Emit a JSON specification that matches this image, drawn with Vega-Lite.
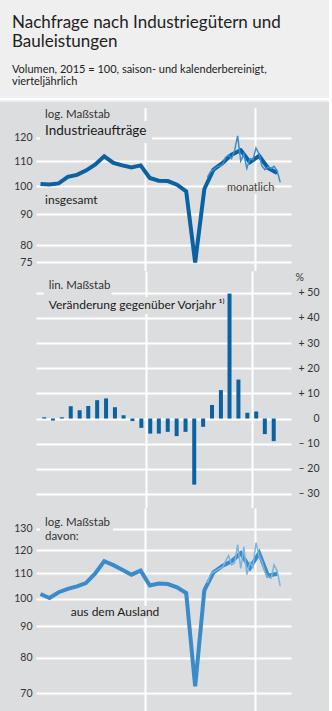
{
  "$schema": "https://vega.github.io/schema/vega-lite/v6.json",
  "background": "#efefef",
  "padding": {"left": 0, "right": 0, "top": 14, "bottom": 0},
  "config": {"view": {"stroke": null}, "font": "Lato"},
  "title": {
    "text": ["Nachfrage nach Industriegütern und", "Bauleistungen"],
    "subtitle": ["Volumen, 2015 = 100, saison- und kalenderbereinigt,", "vierteljährlich"],
    "anchor": "start", "frame": "group", "dx": 12,
    "font": "Lato", "fontSize": 17, "fontWeight": "normal", "lineHeight": 19, "color": "#222222",
    "subtitleFont": "Lato", "subtitleFontSize": 11, "subtitleLineHeight": 12, "subtitleColor": "#222222",
    "subtitlePadding": 13, "offset": 8
  },
  "datasets": {
    "quarterly": [
      {"date": "2016-02-15", "orders": 100.9, "foreign": 101.7, "yoy": 0.5},
      {"date": "2016-05-15", "orders": 100.7, "foreign": 100.2, "yoy": -0.8},
      {"date": "2016-08-15", "orders": 101.1, "foreign": 102.4, "yoy": 0.5},
      {"date": "2016-11-15", "orders": 103.6, "foreign": 103.7, "yoy": 4.9},
      {"date": "2017-02-15", "orders": 104.4, "foreign": 104.7, "yoy": 3.3},
      {"date": "2017-05-15", "orders": 106.1, "foreign": 106.0, "yoy": 5.0},
      {"date": "2017-08-15", "orders": 108.5, "foreign": 109.8, "yoy": 7.3},
      {"date": "2017-11-15", "orders": 112.0, "foreign": 115.1, "yoy": 8.0},
      {"date": "2018-02-15", "orders": 109.2, "foreign": 113.4, "yoy": 4.5},
      {"date": "2018-05-15", "orders": 108.2, "foreign": 111.5, "yoy": 1.3},
      {"date": "2018-08-15", "orders": 107.4, "foreign": 109.4, "yoy": -1.0},
      {"date": "2018-11-15", "orders": 108.2, "foreign": 111.1, "yoy": -3.7},
      {"date": "2019-02-15", "orders": 103.2, "foreign": 105.0, "yoy": -6.0},
      {"date": "2019-05-15", "orders": 102.1, "foreign": 105.8, "yoy": -6.0},
      {"date": "2019-08-15", "orders": 102.0, "foreign": 105.6, "yoy": -5.3},
      {"date": "2019-11-15", "orders": 100.6, "foreign": 104.3, "yoy": -7.0},
      {"date": "2020-02-15", "orders": 98.1, "foreign": 102.1, "yoy": -5.3},
      {"date": "2020-05-15", "orders": 75.0, "foreign": 71.8, "yoy": -26.3},
      {"date": "2020-08-15", "orders": 99.0, "foreign": 103.1, "yoy": -3.3},
      {"date": "2020-11-15", "orders": 106.5, "foreign": 110.4, "yoy": 5.4},
      {"date": "2021-02-15", "orders": 109.2, "foreign": 113.2, "yoy": 11.3},
      {"date": "2021-05-15", "orders": 112.7, "foreign": 115.1, "yoy": 49.7},
      {"date": "2021-08-15", "orders": 114.6, "foreign": 118.7, "yoy": 15.5},
      {"date": "2021-11-15", "orders": 109.5, "foreign": 112.2, "yoy": 2.3},
      {"date": "2022-02-15", "orders": 112.2, "foreign": 118.7, "yoy": 2.8},
      {"date": "2022-05-15", "orders": 107.2, "foreign": 109.0, "yoy": -6.2},
      {"date": "2022-08-15", "orders": 105.1, "foreign": 109.8, "yoy": -9.0}
    ],
    "monthly": [
      {"date": "2020-09-15", "orders": 103.5, "foreign": 106.0},
      {"date": "2020-10-15", "orders": 105.5, "foreign": 109.5},
      {"date": "2020-11-15", "orders": 106.5, "foreign": 110.5},
      {"date": "2020-12-15", "orders": 107.5, "foreign": 111.2},
      {"date": "2021-01-15", "orders": 108.0, "foreign": 112.0},
      {"date": "2021-02-15", "orders": 108.5, "foreign": 112.5},
      {"date": "2021-03-15", "orders": 111.5, "foreign": 115.0},
      {"date": "2021-04-15", "orders": 112.5, "foreign": 117.5},
      {"date": "2021-05-15", "orders": 111.0, "foreign": 113.5},
      {"date": "2021-06-15", "orders": 114.5, "foreign": 114.3},
      {"date": "2021-07-15", "orders": 121.0, "foreign": 122.5},
      {"date": "2021-08-15", "orders": 110.0, "foreign": 112.0},
      {"date": "2021-09-15", "orders": 113.0, "foreign": 121.5},
      {"date": "2021-10-15", "orders": 107.0, "foreign": 109.5},
      {"date": "2021-11-15", "orders": 111.0, "foreign": 114.5},
      {"date": "2021-12-15", "orders": 110.5, "foreign": 112.5},
      {"date": "2022-01-15", "orders": 115.5, "foreign": 123.5},
      {"date": "2022-02-15", "orders": 113.0, "foreign": 117.5},
      {"date": "2022-03-15", "orders": 108.0, "foreign": 115.0},
      {"date": "2022-04-15", "orders": 106.5, "foreign": 110.5},
      {"date": "2022-05-15", "orders": 107.5, "foreign": 108.5},
      {"date": "2022-06-15", "orders": 107.0, "foreign": 108.0},
      {"date": "2022-07-15", "orders": 107.8, "foreign": 113.5},
      {"date": "2022-08-15", "orders": 106.0, "foreign": 111.0},
      {"date": "2022-09-15", "orders": 101.5, "foreign": 104.8}
    ]
  },
  "spacing": 0,
  "resolve": {"scale": {"x": "independent", "y": "independent"}},
  "vconcat": [
    {
      "width": 329, "height": 2,
      "view": {"fill": "#ffffff", "stroke": null},
      "data": {"values": [{}]},
      "mark": {"type": "point", "opacity": 0},
      "encoding": {}
    },
    {
      "width": 329, "height": 169,
      "view": {"fill": "#dcdddf", "stroke": null},
      "layer": [
        {
          "data": {"name": "quarterly"},
          "mark": {"type": "line", "strokeWidth": 4, "color": "#0a62a2"},
          "encoding": {
            "x": {"field": "date", "type": "temporal",
              "scale": {"type": "utc", "domain": [{"year": 2015, "month": 1, "date": 5, "utc": true}, {"year": 2024, "month": 1, "date": 17, "utc": true}]},
              "axis": {"values": [{"year": 2019, "month": 1, "date": 1, "utc": true}, {"year": 2022, "month": 1, "date": 1, "utc": true}], "grid": true, "gridColor": "#ffffff", "gridWidth": 2, "labels": false, "ticks": false, "domain": false, "title": null}},
            "y": {"field": "orders", "type": "quantitative",
              "scale": {"type": "log", "domain": [72.63, 137.46], "nice": false},
              "axis": {"orient": "left", "offset": -291, "values": [75, 80, 90, 100, 110, 120], "tickCount": 20, "tickSize": 255, "tickWidth": 2, "tickColor": "#ffffff", "domain": false, "grid": false, "labelPadding": 4, "labelFont": "Lato", "labelFontSize": 10.5, "labelColor": "#333333", "labelOverlap": false, "title": null}}
          }
        },
        {
          "data": {"name": "monthly"},
          "mark": {"type": "line", "strokeWidth": 1.5, "color": "#3d8ccc"},
          "encoding": {
            "x": {"field": "date", "type": "temporal"},
            "y": {"field": "orders", "type": "quantitative"}
          }
        },
        {
          "data": {"values": [{}]},
          "mark": {"type": "rect", "color": "#dcdddf"},
          "encoding": {
            "x": {"datum": {"year": 2015, "month": 1, "date": 5, "utc": true}, "type": "temporal"},
            "x2": {"datum": {"year": 2024, "month": 1, "date": 17, "utc": true}},
            "y": {"datum": 137.46, "type": "quantitative"},
            "y2": {"datum": 134.4}
          }
        },
        {
          "data": {"values": [{}]},
          "mark": {"type": "rect", "color": "#dcdddf"},
          "encoding": {
            "x": {"datum": {"year": 2016, "month": 2, "date": 10, "utc": true}, "type": "temporal"},
            "x2": {"datum": {"year": 2019, "month": 3, "date": 9, "utc": true}},
            "y": {"datum": 128.0, "type": "quantitative"},
            "y2": {"datum": 117.7}
          }
        },
        {
          "data": {"values": [{}]},
          "mark": {"type": "rect", "color": "#dcdddf"},
          "encoding": {
            "x": {"datum": {"year": 2021, "month": 3, "date": 10, "utc": true}, "type": "temporal"},
            "x2": {"datum": {"year": 2022, "month": 8, "date": 3, "utc": true}},
            "y": {"datum": 99.7, "type": "quantitative"},
            "y2": {"datum": 97.0}
          }
        },
        {
          "data": {"values": [{"label": "log. Maßstab"}]},
          "mark": {"type": "text", "align": "left", "baseline": "middle", "font": "Lato", "fontSize": 11.5, "color": "#333333"},
          "encoding": {
            "x": {"datum": {"year": 2016, "month": 4, "date": 1, "utc": true}, "type": "temporal"},
            "y": {"datum": 130.9, "type": "quantitative"},
            "text": {"field": "label"}
          }
        },
        {
          "data": {"values": [{"label": "Industrieaufträge"}]},
          "mark": {"type": "text", "align": "left", "baseline": "middle", "font": "Lato", "fontSize": 13.5, "color": "#1a1a1a"},
          "encoding": {
            "x": {"datum": {"year": 2016, "month": 4, "date": 1, "utc": true}, "type": "temporal"},
            "y": {"datum": 123.2, "type": "quantitative"},
            "text": {"field": "label"}
          }
        },
        {
          "data": {"values": [{"label": "insgesamt"}]},
          "mark": {"type": "text", "align": "left", "baseline": "middle", "font": "Lato", "fontSize": 12, "color": "#1a1a1a"},
          "encoding": {
            "x": {"datum": {"year": 2016, "month": 4, "date": 1, "utc": true}, "type": "temporal"},
            "y": {"datum": 94.8, "type": "quantitative"},
            "text": {"field": "label"}
          }
        },
        {
          "data": {"values": [{"label": "monatlich"}]},
          "mark": {"type": "text", "align": "left", "baseline": "middle", "font": "Lato", "fontSize": 11, "color": "#4a4036"},
          "encoding": {
            "x": {"datum": {"year": 2021, "month": 3, "date": 30, "utc": true}, "type": "temporal"},
            "y": {"datum": 99.2, "type": "quantitative"},
            "text": {"field": "label"}
          }
        }
      ]
    },
    {
      "width": 329, "height": 237,
      "view": {"fill": "#dcdddf", "stroke": null},
      "layer": [
        {
          "data": {"name": "quarterly"},
          "mark": {"type": "bar", "size": 4, "color": "#0a62a2"},
          "encoding": {
            "x": {"field": "date", "type": "temporal",
              "scale": {"type": "utc", "domain": [{"year": 2015, "month": 1, "date": 5, "utc": true}, {"year": 2024, "month": 1, "date": 17, "utc": true}]},
              "axis": {"values": [{"year": 2019, "month": 1, "date": 1, "utc": true}, {"year": 2022, "month": 1, "date": 1, "utc": true}], "grid": true, "gridColor": "#ffffff", "gridWidth": 2, "labels": false, "ticks": false, "domain": false, "title": null}},
            "y": {"field": "yoy", "type": "quantitative",
              "scale": {"domain": [-35.6, 58.7], "nice": false},
              "axis": {"orient": "right", "offset": -293, "values": [-30, -20, -10, 0, 10, 20, 30, 40, 50], "tickCount": 20, "tickSize": 255, "tickWidth": 2, "tickColor": "#ffffff", "domain": false, "grid": false, "labelPadding": 28, "labelAlign": "right", "labelFont": "Lato", "labelFontSize": 10.5, "labelColor": "#333333", "labelOverlap": false, "labelSeparation": 0, "title": null,
                "labelExpr": "datum.value > 0 ? '+ ' + datum.value : (datum.value < 0 ? '– ' + abs(datum.value) : '0')"}}
          }
        },
        {
          "data": {"values": [{}]},
          "mark": {"type": "rect", "color": "#dcdddf"},
          "encoding": {
            "x": {"datum": {"year": 2016, "month": 2, "date": 10, "utc": true}, "type": "temporal"},
            "x2": {"datum": {"year": 2018, "month": 1, "date": 12, "utc": true}},
            "y": {"datum": 55.2, "type": "quantitative"},
            "y2": {"datum": 48.8}
          }
        },
        {
          "data": {"values": [{}]},
          "mark": {"type": "rect", "color": "#dcdddf"},
          "encoding": {
            "x": {"datum": {"year": 2016, "month": 2, "date": 10, "utc": true}, "type": "temporal"},
            "x2": {"datum": {"year": 2021, "month": 3, "date": 20, "utc": true}},
            "y": {"datum": 48.4, "type": "quantitative"},
            "y2": {"datum": 41.6}
          }
        },
        {
          "data": {"values": [{"label": "lin. Maßstab"}]},
          "mark": {"type": "text", "align": "left", "baseline": "middle", "font": "Lato", "fontSize": 11.5, "color": "#333333"},
          "encoding": {
            "x": {"datum": {"year": 2016, "month": 4, "date": 1, "utc": true}, "type": "temporal"},
            "y": {"datum": 52.6, "type": "quantitative"},
            "text": {"field": "label"}
          }
        },
        {
          "data": {"values": [{"label": "Veränderung gegenüber Vorjahr ¹⁾"}]},
          "mark": {"type": "text", "align": "left", "baseline": "middle", "font": "Lato", "fontSize": 12, "color": "#1a1a1a"},
          "encoding": {
            "x": {"datum": {"year": 2016, "month": 4, "date": 1, "utc": true}, "type": "temporal"},
            "y": {"datum": 45.0, "type": "quantitative"},
            "text": {"field": "label"}
          }
        },
        {
          "data": {"values": [{"label": "%"}]},
          "mark": {"type": "text", "align": "center", "baseline": "middle", "font": "Lato", "fontSize": 10.5, "color": "#333333"},
          "encoding": {
            "x": {"datum": {"year": 2023, "month": 5, "date": 11, "utc": true}, "type": "temporal"},
            "y": {"datum": 56.0, "type": "quantitative"},
            "text": {"field": "label"}
          }
        }
      ]
    },
    {
      "width": 329, "height": 206,
      "view": {"fill": "#dcdddf", "stroke": null},
      "layer": [
        {
          "data": {"name": "quarterly"},
          "mark": {"type": "line", "strokeWidth": 4, "color": "#3a8bc9"},
          "encoding": {
            "x": {"field": "date", "type": "temporal",
              "scale": {"type": "utc", "domain": [{"year": 2015, "month": 1, "date": 5, "utc": true}, {"year": 2024, "month": 1, "date": 17, "utc": true}]},
              "axis": {"values": [{"year": 2019, "month": 1, "date": 1, "utc": true}, {"year": 2022, "month": 1, "date": 1, "utc": true}], "grid": true, "gridColor": "#ffffff", "gridWidth": 2, "labels": false, "ticks": false, "domain": false, "title": null}},
            "y": {"field": "foreign", "type": "quantitative",
              "scale": {"type": "log", "domain": [64.68, 140.7], "nice": false},
              "axis": {"orient": "left", "offset": -291, "values": [70, 80, 90, 100, 110, 120, 130], "tickCount": 20, "tickSize": 255, "tickWidth": 2, "tickColor": "#ffffff", "domain": false, "grid": false, "labelPadding": 4, "labelFont": "Lato", "labelFontSize": 10.5, "labelColor": "#333333", "labelOverlap": false, "title": null}}
          }
        },
        {
          "data": {"name": "monthly"},
          "mark": {"type": "line", "strokeWidth": 1.5, "color": "#7ab4df"},
          "encoding": {
            "x": {"field": "date", "type": "temporal"},
            "y": {"field": "foreign", "type": "quantitative"}
          }
        },
        {
          "data": {"values": [{}]},
          "mark": {"type": "rect", "color": "#dcdddf"},
          "encoding": {
            "x": {"datum": {"year": 2016, "month": 2, "date": 10, "utc": true}, "type": "temporal"},
            "x2": {"datum": {"year": 2018, "month": 2, "date": 12, "utc": true}},
            "y": {"datum": 137.1, "type": "quantitative"},
            "y2": {"datum": 123.3}
          }
        },
        {
          "data": {"values": [{}]},
          "mark": {"type": "rect", "color": "#dcdddf"},
          "encoding": {
            "x": {"datum": {"year": 2016, "month": 11, "date": 17, "utc": true}, "type": "temporal"},
            "x2": {"datum": {"year": 2019, "month": 6, "date": 17, "utc": true}},
            "y": {"datum": 97.2, "type": "quantitative"},
            "y2": {"datum": 92.9}
          }
        },
        {
          "data": {"values": [{"label": "log. Maßstab"}]},
          "mark": {"type": "text", "align": "left", "baseline": "middle", "font": "Lato", "fontSize": 11.5, "color": "#333333"},
          "encoding": {
            "x": {"datum": {"year": 2016, "month": 4, "date": 1, "utc": true}, "type": "temporal"},
            "y": {"datum": 133.2, "type": "quantitative"},
            "text": {"field": "label"}
          }
        },
        {
          "data": {"values": [{"label": "davon:"}]},
          "mark": {"type": "text", "align": "left", "baseline": "middle", "font": "Lato", "fontSize": 11.5, "color": "#333333"},
          "encoding": {
            "x": {"datum": {"year": 2016, "month": 4, "date": 1, "utc": true}, "type": "temporal"},
            "y": {"datum": 126.1, "type": "quantitative"},
            "text": {"field": "label"}
          }
        },
        {
          "data": {"values": [{"label": "aus dem Ausland"}]},
          "mark": {"type": "text", "align": "left", "baseline": "middle", "font": "Lato", "fontSize": 12, "color": "#1a1a1a"},
          "encoding": {
            "x": {"datum": {"year": 2016, "month": 12, "date": 14, "utc": true}, "type": "temporal"},
            "y": {"datum": 95.2, "type": "quantitative"},
            "text": {"field": "label"}
          }
        }
      ]
    }
  ]
}
